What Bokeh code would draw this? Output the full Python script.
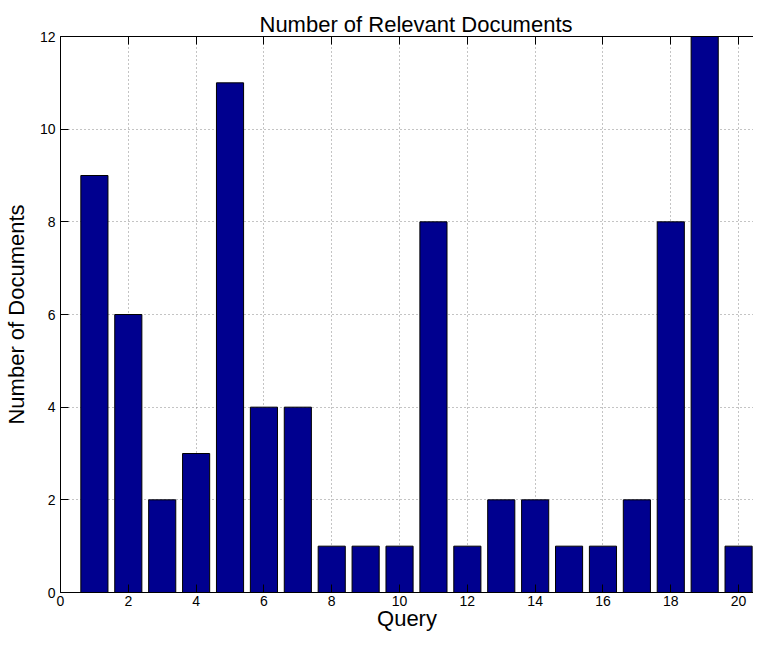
from bokeh.plotting import figure
from bokeh.models import ColumnDataSource, FixedTicker, LinearAxis, Range1d
from bokeh.embed import file_html
from bokeh.resources import INLINE

queries = list(range(1, 21))
num_docs = [9, 6, 2, 3, 11, 4, 4, 1, 1, 1, 8, 1, 2, 2, 1, 1, 2, 8, 12, 1]
x_ticks = [0, 2, 4, 6, 8, 10, 12, 14, 16, 18, 20]
y_ticks = [0, 2, 4, 6, 8, 10, 12]

FONT = "Liberation Sans"

src = ColumnDataSource(data=dict(q=queries, n=num_docs))

p = figure(width=753, height=633, output_backend="svg", toolbar_location=None,
           x_range=Range1d(0, 20.44), y_range=Range1d(0, 12),
           min_border_left=54, min_border_right=0, min_border_top=36, min_border_bottom=20)

p.title.text = "Number of Relevant Documents"
p.title.text_font = FONT
p.title.text_font_size = "22px"
p.title.text_font_style = "normal"
p.title.text_color = "black"
p.title.align = "left"
p.title.offset = 199
p.title.standoff = 0

p.outline_line_color = None
p.background_fill_color = "white"
p.border_fill_color = "white"

p.vbar(x="q", top="n", width=0.8, source=src, fill_color="#00008F",
       line_color="black", line_width=1)

for ax in (p.xaxis[0], p.yaxis[0]):
    ax.major_tick_in = 8
    ax.major_tick_out = 0
    ax.minor_tick_line_color = None
    ax.axis_line_color = "black"
    ax.major_tick_line_color = "black"
    ax.major_label_text_font = FONT
    ax.major_label_text_font_size = "14px"
    ax.major_label_text_color = "black"
    ax.axis_label_text_font = FONT
    ax.axis_label_text_font_size = "22px"
    ax.axis_label_text_font_style = "normal"
    ax.axis_label_text_color = "black"

p.xaxis[0].ticker = FixedTicker(ticks=x_ticks)
p.yaxis[0].ticker = FixedTicker(ticks=y_ticks)
p.xaxis[0].axis_label = "Query"
p.yaxis[0].axis_label = "Number of Documents"
p.xaxis[0].major_label_standoff = 3
p.xaxis[0].axis_label_standoff = -3
p.yaxis[0].major_label_standoff = 5
p.yaxis[0].axis_label_standoff = 8

top = LinearAxis(ticker=FixedTicker(ticks=x_ticks), major_tick_in=8, major_tick_out=0,
                 minor_tick_line_color=None, major_label_text_color=None,
                 major_label_text_font_size="1px",
                 major_label_standoff=0, axis_line_color="black",
                 major_tick_line_color="black")
p.add_layout(top, "above")

p.xgrid.ticker = FixedTicker(ticks=x_ticks)
p.ygrid.ticker = FixedTicker(ticks=y_ticks)
for g in (p.xgrid[0], p.ygrid[0]):
    g.grid_line_color = "#888888"
    g.grid_line_dash = "1 3"
    g.grid_line_width = 1

open("out.html", "w").write(file_html(p, INLINE))
